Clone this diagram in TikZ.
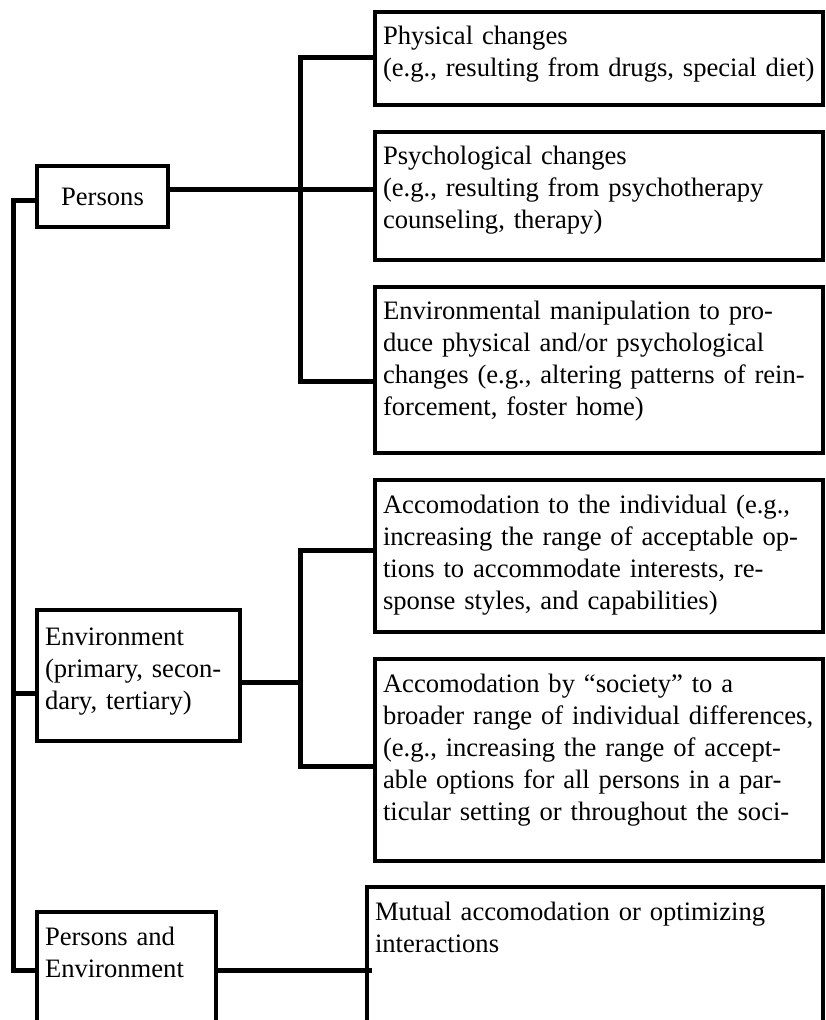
\documentclass[tikz,border=0pt]{standalone}
\usepackage{fontspec}
\setmainfont{Liberation Serif}
\usetikzlibrary{positioning}

\tikzset{
	card/.style={draw, line width=1.9pt, outer sep=0pt, anchor=north west, text width=216pt, align=left, inner xsep=4pt, inner ysep=4pt, text height=12.5pt, text depth=#1, font=\fontsize{13.3}{16}\selectfont},
	tag/.style={draw, line width=1.9pt, outer sep=0pt, anchor=north west, minimum width=65.5pt, minimum height=30.5pt, inner sep=0pt, font=\fontsize{13.3}{16}\selectfont},
	link/.style={line width=2.5pt}
}

\begin{document}
\begin{tikzpicture}[x=0.5pt, y=-0.5pt]
	\useasboundingbox (0,0) rectangle (825,1020);
	
	\node[card=26pt] (phys) at (375,12) {Physical changes\\(e.g., resulting from drugs, special diet)};
	\node[card=43.5pt, below=13.5pt of phys] (psych) {Psychological changes\\(e.g., resulting from psychotherapy\\counseling, therapy)};
	\node[card=62.5pt, below=13.5pt of psych] (manip) {Environmental manipulation to pro-\\duce physical and/or psychological\\changes (e.g., altering patterns of rein-\\forcement, foster home)};
	\node[card=55.5pt, below=13.5pt of manip] (accind) {Accomodation to the individual (e.g.,\\increasing the range of acceptable op-\\tions to accommodate interests, re-\\sponse styles, and capabilities)};
	\node[card=80.5pt, below=13.5pt of accind] (accsoc) {Accomodation by “society” to a\\broader range of individual differences,\\(e.g., increasing the range of accept-\\able options for all persons in a par-\\ticular setting or throughout the soci-};
	\node[card=80pt, text width=220pt, below=13pt of accsoc.south east, anchor=north east] (mutual) {Mutual accomodation or optimizing\\interactions};
	
	\node[tag] (pers) at (37,166) {Persons};
	\node[card=44pt, text width=93.5pt, text height=13.5pt] (env) at (37,610) {Environment\\(primary, secon-\\dary, tertiary)};
	\node[card=60pt, text width=81.5pt] (persenv) at (37,912) {Persons and\\Environment};
	
	\coordinate (j1) at (13,201);
	\coordinate (j2) at (13,693);
	\coordinate (j3) at (13,970);
	\coordinate (b1) at (300,58);
	\coordinate (b2) at (300,190);
	\coordinate (b3) at (300,382);
	\coordinate (c1) at (300,550);
	\coordinate (c2) at (300,682);
	\coordinate (c3) at (300,766);
	
	\draw[link] (pers.west |- j1) -- (j1) -- (j3) -- (persenv.west |- j3);
	\draw[link] (j2) -- (env.west |- j2);
	
	\draw[link] (pers.east |- b2) -- (psych.west |- b2);
	\draw[link] (phys.west |- b1) -- (b1) -- (b3) -- (manip.west |- b3);
	
	\draw[link] (env.east |- c2) -- (c2);
	\draw[link] (accind.west |- c1) -- (c1) -- (c3) -- (accsoc.west |- c3);
	
	\draw[link] (persenv.east |- j3) -- ([xshift=2.5pt]mutual.west |- j3);
\end{tikzpicture}
\end{document}
